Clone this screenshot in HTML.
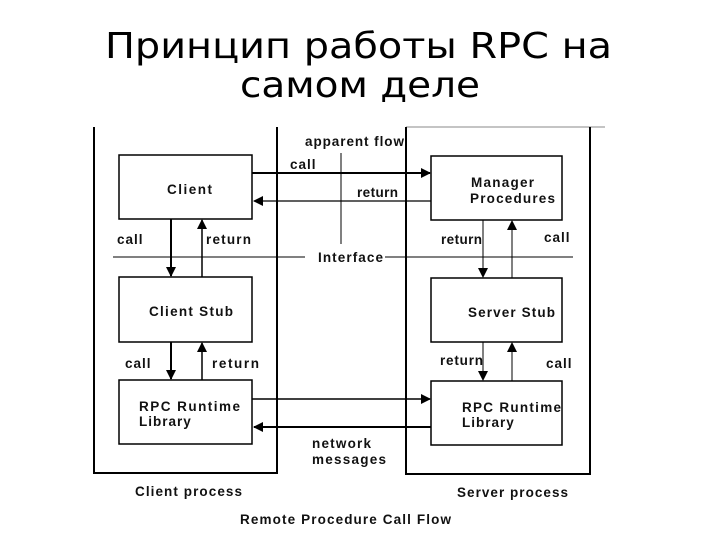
<!DOCTYPE html>
<html><head><meta charset="utf-8"><style>
html,body{margin:0;padding:0;background:#fff;}
svg{display:block;}
.t{font-family:"Liberation Sans",Arial,sans-serif;font-size:13.5px;font-weight:bold;fill:#111;letter-spacing:1px;}
</style></head><body>
<svg width="720" height="540" viewBox="0 0 720 540" xmlns="http://www.w3.org/2000/svg">
<defs>
<marker id="a" markerWidth="10" markerHeight="10" refX="9" refY="5" orient="auto" markerUnits="userSpaceOnUse">
<path d="M0,0 L10,5 L0,10 z" fill="#000"/></marker>
</defs>
<text x="105" y="58" textLength="507" lengthAdjust="spacingAndGlyphs" font-family="DejaVu Sans,Liberation Sans,sans-serif" font-size="36" fill="#000">Принцип работы RPC на</text>
<text x="240" y="97" textLength="240" lengthAdjust="spacingAndGlyphs" font-family="DejaVu Sans,Liberation Sans,sans-serif" font-size="36" fill="#000">самом деле</text>
<g stroke="#000" fill="none">
<path d="M94,127 V473 H277 V127" stroke-width="2"/>
<path d="M406,127 H605" stroke-width="1" stroke="#888"/>
<path d="M406,127 V474 H590 V127" stroke-width="2"/>
<rect x="119" y="155" width="133" height="64" stroke-width="1.5"/>
<rect x="431" y="156" width="131" height="64" stroke-width="1.5"/>
<rect x="119" y="277" width="133" height="65" stroke-width="1.5"/>
<rect x="431" y="278" width="131" height="64" stroke-width="1.5"/>
<rect x="119" y="380" width="133" height="64" stroke-width="1.5"/>
<rect x="431" y="381" width="131" height="64" stroke-width="1.5"/>
<path d="M113,257 H305 M385,257 H573" stroke-width="1"/>
<path d="M341,153 V244" stroke-width="1"/>
<path d="M252,173 H430" stroke-width="2" marker-end="url(#a)"/>
<path d="M431,201 H254" stroke-width="1.2" marker-end="url(#a)"/>
<path d="M252,399 H430" stroke-width="1.5" marker-end="url(#a)"/>
<path d="M431,427 H254" stroke-width="2" marker-end="url(#a)"/>
<path d="M171,219 V276" stroke-width="2" marker-end="url(#a)"/>
<path d="M202,277 V220" stroke-width="1.5" marker-end="url(#a)"/>
<path d="M171,342 V379" stroke-width="2" marker-end="url(#a)"/>
<path d="M202,380 V343" stroke-width="1.5" marker-end="url(#a)"/>
<path d="M483,220 V277" stroke-width="1" marker-end="url(#a)"/>
<path d="M512,278 V221" stroke-width="1" marker-end="url(#a)"/>
<path d="M483,342 V380" stroke-width="1" marker-end="url(#a)"/>
<path d="M512,381 V343" stroke-width="1" marker-end="url(#a)"/>
</g>
<text class="t" x="305" y="146" textLength="100">apparent flow</text>
<text class="t" x="290" y="169">call</text>
<text class="t" x="357" y="197" textLength="42">return</text>
<text class="t" x="167" y="194" textLength="46">Client</text>
<text class="t" x="471" y="187" textLength="64">Manager</text>
<text class="t" x="470" y="203" textLength="86">Procedures</text>
<text class="t" x="117" y="244">call</text>
<text class="t" x="206" y="244" textLength="46">return</text>
<text class="t" x="441" y="244" textLength="42">return</text>
<text class="t" x="544" y="242">call</text>
<text class="t" x="318" y="262" textLength="66">Interface</text>
<text class="t" x="149" y="316" textLength="85">Client Stub</text>
<text class="t" x="468" y="317" textLength="88">Server Stub</text>
<text class="t" x="125" y="368">call</text>
<text class="t" x="212" y="368" textLength="48">return</text>
<text class="t" x="440" y="365" textLength="44">return</text>
<text class="t" x="546" y="368">call</text>
<text class="t" x="139" y="411" textLength="102">RPC Runtime</text>
<text class="t" x="139" y="426">Library</text>
<text class="t" x="462" y="412" textLength="100">RPC Runtime</text>
<text class="t" x="462" y="427">Library</text>
<text class="t" x="312" y="448" textLength="60">network</text>
<text class="t" x="312" y="464" textLength="75">messages</text>
<text class="t" x="135" y="496" textLength="108">Client process</text>
<text class="t" x="457" y="497" textLength="112">Server process</text>
<text class="t" x="240" y="524" textLength="212">Remote Procedure Call Flow</text>
</svg>
</body></html>
